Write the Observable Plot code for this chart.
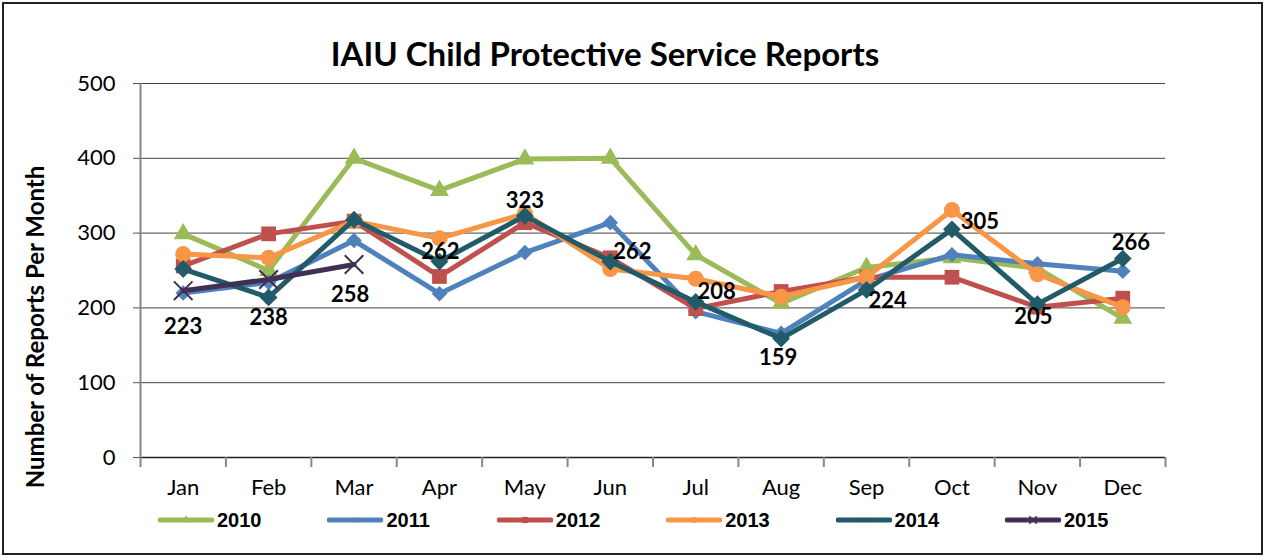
<!DOCTYPE html>
<html><head><meta charset="utf-8">
<script src="https://cdn.jsdelivr.net/npm/d3@7"></script>
<script src="https://cdn.jsdelivr.net/npm/@observablehq/plot@0.6"></script>
<style>
body{margin:0;background:#fff;}
#wrap{position:relative;width:1265px;height:558px;overflow:hidden;font-family:Lato,sans-serif;background:#fff;}
#frame{position:absolute;left:2px;top:2px;width:1257px;height:549px;border:2px solid #222;pointer-events:none;}
#title{position:absolute;left:0;width:1210px;top:33px;text-align:center;font-family:Lato,sans-serif;font-weight:bold;font-size:33px;line-height:40px;color:#000;}
#chart{position:absolute;left:0;top:70px;}
#legend{position:absolute;left:0;top:509px;width:1265px;height:22px;}
.item{position:absolute;top:0;height:22px;display:flex;align-items:center;}
.item span{font-family:"Liberation Sans",Arial,sans-serif;font-weight:bold;font-size:20px;margin-left:3px;color:#000;}
</style></head>
<body>
<div id="wrap">
  <div id="title">IAIU Child Protective Service Reports</div>
  <div id="chart"></div>
  <div id="legend"></div>
  <div id="frame"></div>
</div>
<script>
const months = ["Jan","Feb","Mar","Apr","May","Jun","Jul","Aug","Sep","Oct","Nov","Dec"];
const years = ["2010","2011","2012","2013","2014","2015"];
const v2010 = [299,250,400,357,399,400,271,206,254,267,253,186];
const v2011 = [220,234,290,219,274,314,195,166,237,271,259,249];
const v2012 = [256,299,316,242,314,267,199,222,241,241,201,213];
const v2013 = [272,267,316,293,326,252,239,215,241,331,245,201];
const v2014 = [252,214,318,262,323,262,208,159,224,305,205,266];
const v2015 = [223,238,258];
const yTicks = [0,100,200,300,400,500];

const seriesValues = [v2010,v2011,v2012,v2013,v2014,v2015];
const colors = ["#9BBB59","#4F81BD","#C0504D","#F79646","#215B69","#403152"];
const symbols = ["triangle","diamond2","square","circle","diamond2","times"];
const radii = [7,7,8.3,8,8,8.5];
const legendR = [3,2.5,3.5,3,2.5,3.5];

// label placement (pixel offsets from the point), 2015 labels Jan-Mar, 2014 labels Apr-Dec
const labelOffset2015 = {Jan:[0,36],Feb:[0,38],Mar:[-4,30]};
const labelOffset2014 = {Apr:[1,-10],May:[0,-15],Jun:[22,-10],Jul:[21,-10],Aug:[-3,19],Sep:[21,11],Oct:[28,-7],Nov:[-4,13],Dec:[8,-16]};

const rows = [];
years.forEach((yr,k)=>seriesValues[k].forEach((v,i)=>rows.push({year:yr,month:months[i],pos:i+0.5,value:v})));

const marks = [
  Plot.gridY(yTicks.filter(d=>d>0), {stroke:"#444", strokeOpacity:1, strokeWidth:1}),
  Plot.ruleY([0], {stroke:"#222", strokeWidth:1.3}),
  Plot.axisX({ticks: d3.range(0,13), tickSize:10, tickFormat:()=>"", stroke:"#888", strokeWidth:2, label:null}),
  Plot.axisX({ticks: months.map((m,i)=>i+0.5), tickSize:0, tickPadding:22, tickFormat:d=>months[Math.floor(d)], fontSize:22, fill:"#000", label:null}),
  Plot.ruleX([0], {y1:0, y2:500, stroke:"#888", strokeWidth:2}),
  Plot.axisY({ticks: yTicks, tickSize:7, tickPadding:18, fontSize:22, fill:"#000", stroke:"#555", label:null}),
];
years.forEach((yr,k)=>{
  const d = rows.filter(r=>r.year===yr);
  marks.push(Plot.line(d, {x:"pos", y:"value", stroke:colors[k], strokeWidth:5, strokeLinejoin:"round", strokeLinecap:"round"}));
  if (symbols[k]==="times") {
    marks.push(Plot.dot(d, {x:"pos", y:"value", symbol:"times", r:radii[k], stroke:colors[k], strokeWidth:2}));
  } else {
    marks.push(Plot.dot(d, {x:"pos", y:"value", symbol:symbols[k], r:radii[k], fill:colors[k], stroke:"none"}));
  }
});
const lblFont = {fontSize:22, fontWeight:"bold", fill:"#000", textAnchor:"middle"};
rows.filter(r=>r.year==="2015" && labelOffset2015[r.month]).forEach(r=>{
  const [dx,dy] = labelOffset2015[r.month];
  marks.push(Plot.text([r], {x:"pos", y:"value", text:d=>String(d.value), dx, dy, ...lblFont}));
});
rows.filter(r=>r.year==="2014" && labelOffset2014[r.month]).forEach(r=>{
  const [dx,dy] = labelOffset2014[r.month];
  marks.push(Plot.text([r], {x:"pos", y:"value", text:d=>String(d.value), dx, dy, ...lblFont}));
});

const chart = Plot.plot({
  width:1265, height:436,
  marginLeft:140, marginRight:100, marginTop:13, marginBottom:49,
  x:{type:"linear", domain:[0,12]},
  y:{type:"linear", domain:[0,500]},
  style:{fontFamily:"Lato, sans-serif", fontSize:"22px", background:"transparent", overflow:"visible", color:"#000"},
  marks
});
document.getElementById("chart").appendChild(chart);

d3.select(chart).append("text")
  .attr("transform","translate(38,257) rotate(-90)")
  .attr("text-anchor","middle").attr("dominant-baseline","middle")
  .style("font-family","Lato, sans-serif").style("font-weight","bold").style("font-size","24px")
  .attr("fill","#000")
  .text("Number of Reports Per Month");

// legend
const legend = d3.select("#legend");
years.forEach((yr,k)=>{
  const item = legend.append("div").attr("class","item").style("left",(158 + k*169.4)+"px");
  const s = item.append("svg").attr("width",56).attr("height",14);
  s.append("line").attr("x1",2).attr("x2",54).attr("y1",7).attr("y2",7)
    .attr("stroke",colors[k]).attr("stroke-width",5).attr("stroke-linecap","round");
  const sym = {triangle:d3.symbolTriangle,diamond2:d3.symbolDiamond2,square:d3.symbolSquare,circle:d3.symbolCircle,times:d3.symbolTimes}[symbols[k]];
  const p = s.append("path").attr("transform","translate(28,7)")
    .attr("d", d3.symbol(sym, Math.PI*legendR[k]*legendR[k])());
  if (symbols[k]==="times") p.attr("fill","none").attr("stroke",colors[k]).attr("stroke-width",1.5);
  else p.attr("fill",colors[k]);
  item.append("span").text(yr);
});
</script>
</body></html>
